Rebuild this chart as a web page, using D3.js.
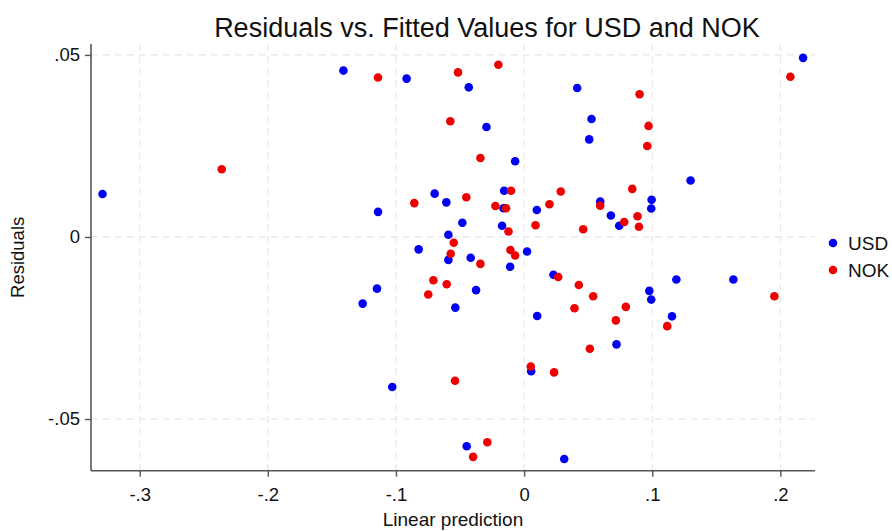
<!DOCTYPE html>
<html>
<head>
<meta charset="utf-8">
<script src="https://cdn.jsdelivr.net/npm/d3@7"></script>
<style>
  html, body { margin: 0; padding: 0; background: #fff; }
  svg { display: block; font-family: "Liberation Sans", Arial, Helvetica, sans-serif; }
</style>
</head>
<body>
<svg id="chart" width="892" height="531"></svg>
<script>
// Residual diagnostics: fitted value (x) vs residual (y), one series per currency
const usdFitted = [-0.329, -0.141, -0.114, -0.0917, -0.0432, 0.0414, -0.0294, 0.0526, 0.0508, -0.0070,
  -0.0698, -0.0607, -0.0156, -0.0161, -0.0482, -0.0172, -0.0591, 0.0099, 0.1299, 0.0594,
  0.0677, 0.0742, 0.0995, 0.0992, 0.2177, -0.0823, -0.0591, -0.0417, -0.0109, 0.0023,
  0.0229, -0.1148, -0.1260, -0.0375, -0.0537, 0.0102, 0.0055, -0.1029, -0.0448, 0.0313,
  0.0721, 0.0977, 0.0992, 0.1188, 0.1154, 0.1633];
const usdResid = [0.0118, 0.0457, 0.0069, 0.0435, 0.0411, 0.0409, 0.0302, 0.0324, 0.0268, 0.0208,
  0.0119, 0.0095, 0.0127, 0.0079, 0.0039, 0.0031, 0.0006, 0.0074, 0.0155, 0.0097,
  0.0059, 0.0031, 0.0102, 0.0078, 0.0492, -0.0034, -0.0063, -0.0057, -0.0082, -0.0040,
  -0.0104, -0.0142, -0.0183, -0.0146, -0.0194, -0.0217, -0.0369, -0.0412, -0.0575, -0.0610,
  -0.0295, -0.0148, -0.0172, -0.0117, -0.0218, -0.0117];

const nokFitted = [-0.236, -0.114, -0.0516, -0.0201, -0.0576, -0.0341, -0.0857, -0.0451, -0.0102, -0.0224,
  -0.0141, -0.0122, -0.0549, 0.0198, 0.0286, 0.0089, 0.0461, 0.0844, 0.0594, 0.0781,
  0.0885, 0.0896, 0.0901, 0.0971, 0.0961, 0.2078, -0.0573, -0.0341, -0.0107, -0.0070,
  -0.0708, 0.0266, -0.0604, -0.0748, 0.0427, 0.0393, 0.0052, 0.0234, -0.0539, -0.0287,
  -0.0398, 0.0539, 0.0794, 0.0716, 0.0513, 0.1117, 0.1953];
const nokResid = [0.0186, 0.0438, 0.0452, 0.0473, 0.0318, 0.0217, 0.0093, 0.0109, 0.0127, 0.0085,
  0.0079, 0.0015, -0.0016, 0.0090, 0.0125, 0.0032, 0.0021, 0.0132, 0.0086, 0.0041,
  0.0057, 0.0028, 0.0392, 0.0305, 0.0250, 0.0440, -0.0046, -0.0074, -0.0036, -0.0051,
  -0.0119, -0.0110, -0.0130, -0.0158, -0.0132, -0.0196, -0.0356, -0.0372, -0.0395, -0.0564,
  -0.0604, -0.0163, -0.0192, -0.0229, -0.0307, -0.0245, -0.0163];

const seriesNames = ["USD", "NOK"];
const seriesColors = ["#0000f2", "#ee0000"];
const xTicks = [-0.3, -0.2, -0.1, 0, 0.1, 0.2];
const xTickLabels = ["-.3", "-.2", "-.1", "0", ".1", ".2"];
const yTicks = [-0.05, 0, 0.05];
const yTickLabels = ["-.05", "0", ".05"];

const series = [
  { name: seriesNames[0], color: seriesColors[0], pts: usdFitted.map((x, i) => [x, usdResid[i]]) },
  { name: seriesNames[1], color: seriesColors[1], pts: nokFitted.map((x, i) => [x, nokResid[i]]) }
];

const svg = d3.select("#chart");
const plotLeft = 91, plotRight = 815, plotTop = 44, plotBottom = 470.7;

const x = d3.scaleLinear().domain([-0.338, 0.227]).range([plotLeft, plotRight]);
const y = d3.scaleLinear().domain([-0.0642, 0.053]).range([plotBottom, plotTop]);

// dashed reference grid
const grid = svg.append("g");
grid.selectAll("line.gx").data(xTicks).join("line")
  .attr("x1", d => x(d)).attr("x2", d => x(d))
  .attr("y1", plotTop).attr("y2", plotBottom)
  .attr("stroke", "#e6e6e6").attr("stroke-width", 1.2).attr("stroke-dasharray", "7,5");
grid.selectAll("line.gy").data(yTicks).join("line")
  .attr("x1", plotLeft).attr("x2", plotRight)
  .attr("y1", d => y(d)).attr("y2", d => y(d))
  .attr("stroke", "#e6e6e6").attr("stroke-width", 1.2).attr("stroke-dasharray", "7,5");

// axes
const xAxis = d3.axisBottom(x).tickValues(xTicks).tickFormat((d, i) => xTickLabels[i]).tickSize(6).tickPadding(11).tickSizeOuter(0);
const yAxis = d3.axisLeft(y).tickValues(yTicks).tickFormat((d, i) => yTickLabels[i]).tickSize(6).tickPadding(5).tickSizeOuter(0);

const gx = svg.append("g").attr("transform", `translate(0,${plotBottom})`).call(xAxis);
const gy = svg.append("g").attr("transform", `translate(${plotLeft},0)`).call(yAxis);
[gx, gy].forEach(g => {
  g.select(".domain").attr("stroke", "#555").attr("stroke-width", 1.6);
  g.selectAll(".tick line").attr("stroke", "#555").attr("stroke-width", 1.4);
  g.selectAll(".tick text").attr("fill", "#111").style("font-size", "18.5px")
    .style("font-family", "'Liberation Sans', Arial, sans-serif");
});
gx.select(".domain").attr("d", `M${plotLeft},0H${plotRight}`);
gy.select(".domain").attr("d", `M0,${plotBottom}V${plotTop}`);

// points
series.forEach(s => {
  svg.append("g").selectAll("circle").data(s.pts).join("circle")
    .attr("cx", d => x(d[0])).attr("cy", d => y(d[1]))
    .attr("r", 4.3).attr("fill", s.color);
});

// title and axis titles
svg.append("text").attr("x", 487).attr("y", 37).attr("text-anchor", "middle")
  .style("font-size", "27px").attr("fill", "#111")
  .text("Residuals vs. Fitted Values for USD and NOK");
svg.append("text").attr("x", (plotLeft + plotRight) / 2).attr("y", 526).attr("text-anchor", "middle")
  .style("font-size", "19px").attr("fill", "#111").text("Linear prediction");
svg.append("text").attr("transform", `translate(24,${(plotTop + plotBottom) / 2}) rotate(-90)`)
  .attr("text-anchor", "middle").style("font-size", "18.5px").attr("fill", "#111").text("Residuals");

// legend
const legend = svg.append("g").attr("transform", "translate(833,243)");
series.forEach((s, i) => {
  const row = legend.append("g").attr("transform", `translate(0,${i * 27})`);
  row.append("circle").attr("r", 4.3).attr("fill", s.color);
  row.append("text").attr("x", 15).attr("y", 7).style("font-size", "19px").attr("fill", "#111").text(s.name);
});
</script>
</body>
</html>
